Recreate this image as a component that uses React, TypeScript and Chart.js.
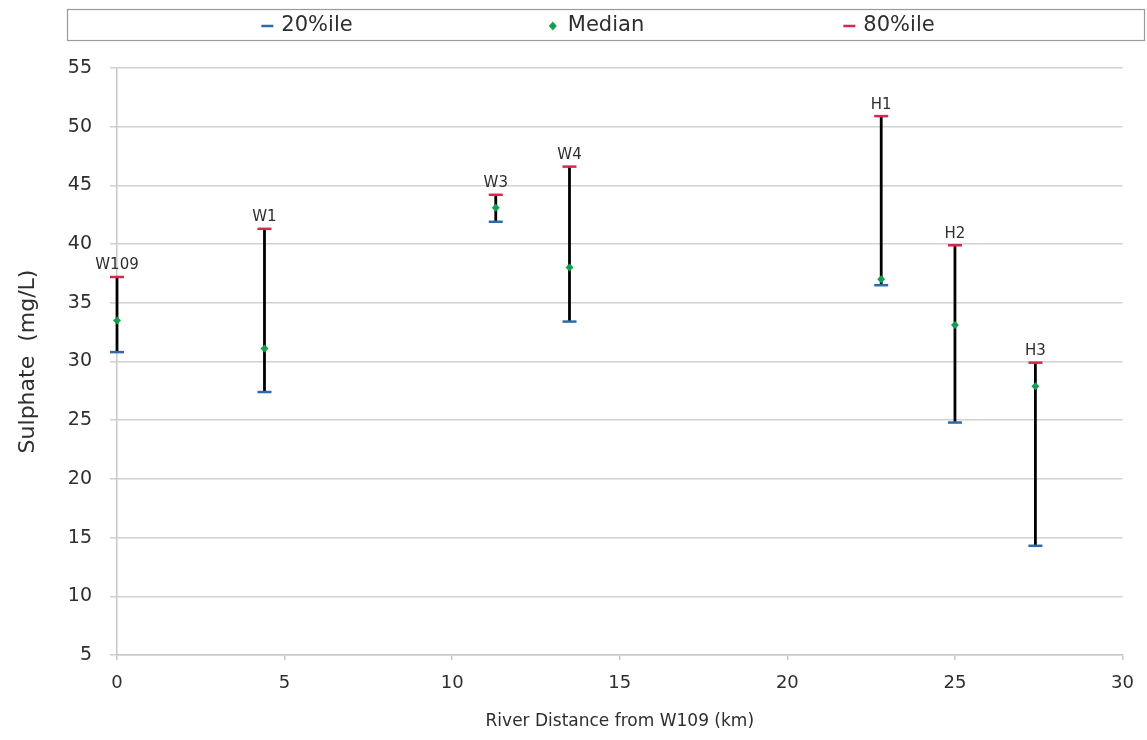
import React, { useEffect, useRef } from "react";
import { Chart, registerables } from "chart.js";

Chart.register(...registerables);

const stations = ["W109", "W1", "W3", "W4", "H1", "H2", "H3"];
const distanceKm = [0, 4.4, 11.3, 13.5, 22.8, 25.0, 27.4];
const p20 = [30.8, 27.4, 41.9, 33.4, 36.5, 24.8, 14.3];
const median = [33.5, 31.1, 43.1, 38.0, 37.0, 33.1, 27.9];
const p80 = [37.2, 41.3, 44.2, 46.6, 50.9, 39.9, 29.9];
const yTicks = [5, 10, 15, 20, 25, 30, 35, 40, 45, 50, 55];
const xTicks = [0, 5, 10, 15, 20, 25, 30];

const FONT = '"DejaVu Sans", sans-serif';
const BLUE = "#2f6aa8";
const GREEN = "#12a050";
const RED = "#d8264e";
const TEXT = "#2e2e2e";

const stationLabelPlugin = {
  id: "stationLabels",
  afterDatasetsDraw(chart: any) {
    const { ctx, scales } = chart;
    ctx.save();
    ctx.font = `15px ${FONT}`;
    ctx.fillStyle = TEXT;
    ctx.textAlign = "center";
    ctx.textBaseline = "bottom";
    stations.forEach((s, i) => {
      const x = scales.x.getPixelForValue(distanceKm[i]);
      const y = scales.y.getPixelForValue(p80[i]);
      ctx.fillText(s, x, y - 4);
    });
    ctx.restore();
  },
};

const boxLegendPlugin = {
  id: "boxLegend",
  afterDraw(chart: any) {
    const { ctx } = chart;
    const left = 67.5;
    const right = chart.width - 2.5;
    const top = 9.5;
    const bottom = 40.5;
    ctx.save();
    ctx.strokeStyle = "#9a9a9a";
    ctx.lineWidth = 1.2;
    ctx.strokeRect(left, top, right - left, bottom - top);
    const items = chart.data.datasets.filter((d: any) => d.label !== "range");
    const cx = (left + right) / 2;
    const cy = (top + bottom) / 2 + 1;
    const spacing = 293;
    ctx.font = `21px ${FONT}`;
    ctx.textBaseline = "middle";
    items.forEach((d: any, i: number) => {
      const w = ctx.measureText(d.label).width;
      const textCenter = cx + (i - 1) * spacing + (i === 0 ? 4 : 0);
      const textStart = textCenter - w / 2;
      if (d.pointStyle === "line") {
        const mx = textStart - 14;
        ctx.strokeStyle = d.borderColor;
        ctx.lineWidth = 2.5;
        ctx.beginPath();
        ctx.moveTo(mx - 6, cy);
        ctx.lineTo(mx + 6, cy);
        ctx.stroke();
      } else {
        const mx = textStart - 15;
        ctx.fillStyle = d.backgroundColor;
        ctx.beginPath();
        ctx.moveTo(mx, cy - 4.5);
        ctx.lineTo(mx + 4, cy);
        ctx.lineTo(mx, cy + 4.5);
        ctx.lineTo(mx - 4, cy);
        ctx.closePath();
        ctx.fill();
      }
      ctx.fillStyle = TEXT;
      ctx.textAlign = "left";
      ctx.fillText(d.label, textStart, cy);
    });
    ctx.restore();
  },
};

export default function App() {
  const ref = useRef<HTMLCanvasElement>(null);

  useEffect(() => {
    document.body.style.margin = "0";
    const rangeData: any[] = [];
    distanceKm.forEach((d, i) => {
      rangeData.push({ x: d, y: p20[i] });
      rangeData.push({ x: d, y: p80[i] });
      rangeData.push({ x: d, y: null });
    });
    const chart = new Chart(ref.current as HTMLCanvasElement, {
      type: "scatter",
      data: {
        datasets: [
          {
            label: "20%ile",
            data: distanceKm.map((d, i) => ({ x: d, y: p20[i] })),
            pointStyle: "line",
            pointRadius: 7,
            borderColor: BLUE,
            backgroundColor: BLUE,
            borderWidth: 2.5,
            clip: false,
            order: 0,
          } as any,
          {
            label: "Median",
            data: distanceKm.map((d, i) => ({ x: d, y: median[i] })),
            pointStyle: "rectRot",
            pointRadius: 4,
            borderColor: GREEN,
            backgroundColor: GREEN,
            borderWidth: 0,
            clip: false,
            order: 0,
          } as any,
          {
            label: "80%ile",
            data: distanceKm.map((d, i) => ({ x: d, y: p80[i] })),
            pointStyle: "line",
            pointRadius: 7,
            borderColor: RED,
            backgroundColor: RED,
            borderWidth: 2.5,
            clip: false,
            order: 0,
          } as any,
          {
            label: "range",
            data: rangeData,
            showLine: true,
            spanGaps: false,
            borderColor: "#000000",
            borderWidth: 2.8,
            pointRadius: 0,
            clip: false,
            order: 5,
          } as any,
        ],
      },
      options: {
        animation: false,
        responsive: false,
        layout: { padding: { top: 68, right: 20, bottom: 3, left: 0 } },
        plugins: {
          legend: { display: false },
          tooltip: { enabled: false },
        },
        scales: {
          x: {
            type: "linear",
            min: 0,
            max: 30,
            afterBuildTicks: (s: any) => {
              s.ticks = xTicks.map((v) => ({ value: v }));
            },
            afterFit: (s: any) => {
              s.height = 82;
            },
            grid: {
              drawOnChartArea: false,
              drawTicks: true,
              tickLength: 5,
              color: "#c8c8c8",
              lineWidth: 1.5,
            },
            border: { color: "#c8c8c8", width: 1.5 },
            ticks: {
              font: { family: FONT, size: 18 },
              color: TEXT,
              padding: 13,
            },
            title: {
              display: true,
              text: "River Distance from W109 (km)",
              font: { family: FONT, size: 17 },
              color: TEXT,
              padding: { top: 0, bottom: 5 },
            },
          },
          y: {
            type: "linear",
            min: 5,
            max: 55,
            afterBuildTicks: (s: any) => {
              s.ticks = yTicks.map((v) => ({ value: v }));
            },
            afterFit: (s: any) => {
              s.width = 117;
            },
            grid: {
              color: "#d2d2d2",
              lineWidth: 1.6,
              drawTicks: true,
              tickLength: 7,
            },
            border: { color: "#c8c8c8", width: 1.5 },
            ticks: {
              font: { family: FONT, size: 19 },
              color: TEXT,
              padding: 18,
            },
            title: {
              display: true,
              text: "Sulphate  (mg/L)",
              font: { family: FONT, size: 22 },
              color: TEXT,
              padding: { top: 15, bottom: 0 },
            },
          },
        },
      },
      plugins: [stationLabelPlugin, boxLegendPlugin],
    });
    return () => chart.destroy();
  }, []);

  return (
    <div style={{ width: 1147, height: 740 }}>
      <canvas ref={ref} width={1147} height={740} />
    </div>
  );
}
